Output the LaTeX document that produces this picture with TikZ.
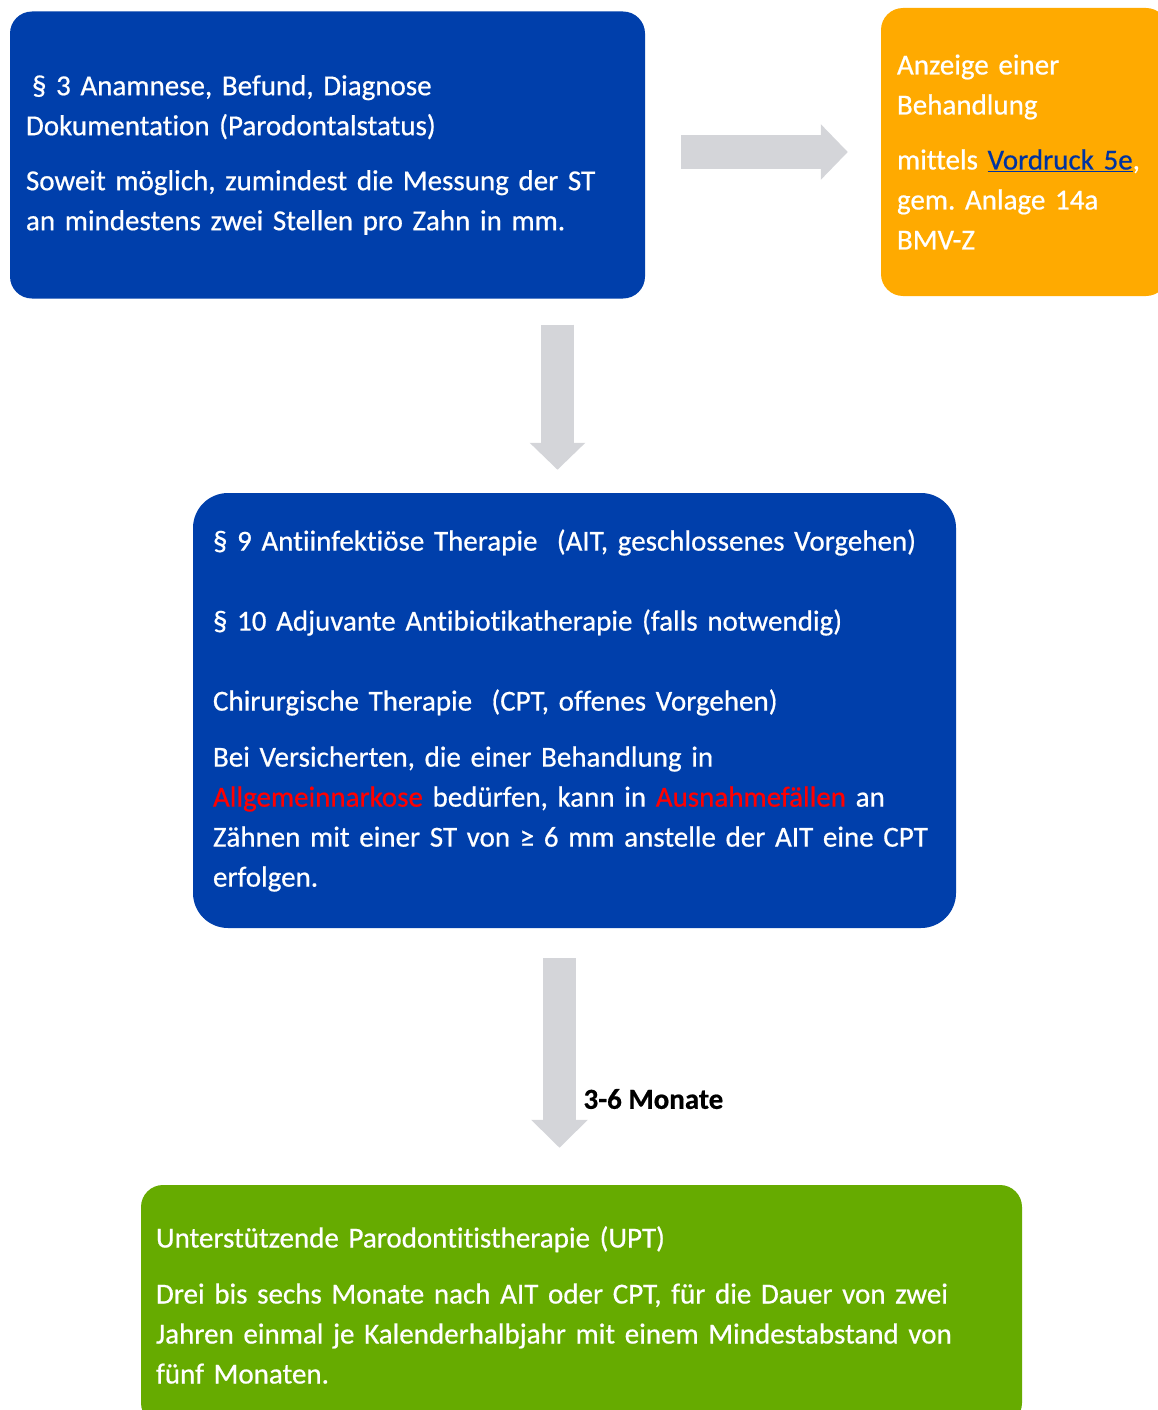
\documentclass[tikz,border=0pt]{standalone}
\usepackage{fontspec}
\setmainfont{Carlito}[Ligatures=NoCommon, FakeBold=0.6]
\usetikzlibrary{arrows.meta}
\definecolor{kzvblue}{RGB}{0,63,171}
\definecolor{kzvorange}{RGB}{255,170,0}
\definecolor{kzvgreen}{RGB}{102,171,0}
\definecolor{arrowgray}{RGB}{212,213,217}
\definecolor{linkblue}{RGB}{0,51,160}
\definecolor{alertred}{RGB}{255,0,0}
\frenchspacing

\begin{document}
\begin{tikzpicture}[x=1pt, y=-1pt,
    box/.style={rounded corners=22pt, text=white, align=left, inner ysep=0pt,
      font=\fontsize{29}{40}\selectfont},
    grayarrow/.style={draw=arrowgray, line width=33pt}]
        \useasboundingbox (0,0) rectangle (1158,1410);

        % Nodes
        \node (befund) [box, fill=kzvblue, inner xsep=16pt, text width=603pt, minimum height=287pt] at (327.5,155)
            {\hspace*{6pt}\S~3 Anamnese, Befund, Diagnose\\
             Dokumentation (Parodontalstatus)\\[15pt]
             Soweit möglich, zumindest die Messung der ST\\
             an mindestens zwei Stellen pro Zahn in mm.};
        \node (anzeige) [box, fill=kzvorange, inner xsep=16pt, text width=255pt, minimum height=288pt] at (1024.5,152)
            {Anzeige einer\\
             Behandlung\\[15pt]
             mittels \textcolor{linkblue}{\underline{Vordruck 5e}},\\
             gem. Anlage 14a\\
             BMV-Z};
        \node (therapie) [box, rounded corners=35pt, fill=kzvblue, inner xsep=20pt, text width=723pt, minimum height=435pt] at (574.5,710.5)
            {\S~9 Antiinfektiöse Therapie\ \ (AIT, geschlossenes Vorgehen)\\[40pt]
             \S~10 Adjuvante Antibiotikatherapie (falls notwendig)\\[40pt]
             Chirurgische Therapie\ \ (CPT, offenes Vorgehen)\\[16pt]
             Bei Versicherten, die einer Behandlung in\\
             \textcolor{alertred}{Allgemeinnarkose} bedürfen, kann in \textcolor{alertred}{Ausnahmefällen} an\\
             Zähnen mit einer ST von ≥ 6 mm anstelle der AIT eine CPT\\
             erfolgen.\\[-4pt]};
        \node (upt) [box, fill=kzvgreen, inner xsep=15pt, text width=851pt, minimum height=240pt] at (581.5,1305)
            {Unterstützende Parodontitistherapie (UPT)\\[16pt]
             Drei bis sechs Monate nach AIT oder CPT, für die Dauer von zwei\\
             Jahren einmal je Kalenderhalbjahr mit einem Mindestabstand von\\
             fünf Monaten.};
        \node (monate) [anchor=west, font=\bfseries\fontsize{29}{34}\selectfont] at (580,1099) {3-6 Monate};
        \coordinate (down1) at (557.5,0);
        \coordinate (down2) at (559.5,0);

        % Edges
        \draw[grayarrow, -{Triangle[width=54pt,length=27pt]}, shorten <=36pt, shorten >=33pt]
            (anzeige.west -| befund.east) -- (anzeige.west);
        \draw[grayarrow, -{Triangle[width=54pt,length=27pt]}, shorten <=26pt, shorten >=23pt]
            (befund.south -| down1) -- (therapie.north -| down1);
        \draw[grayarrow, -{Triangle[width=55pt,length=28pt]}, shorten <=30pt, shorten >=37pt]
            (therapie.south -| down2) -- (upt.north -| down2);
    \end{tikzpicture}
\end{document}
